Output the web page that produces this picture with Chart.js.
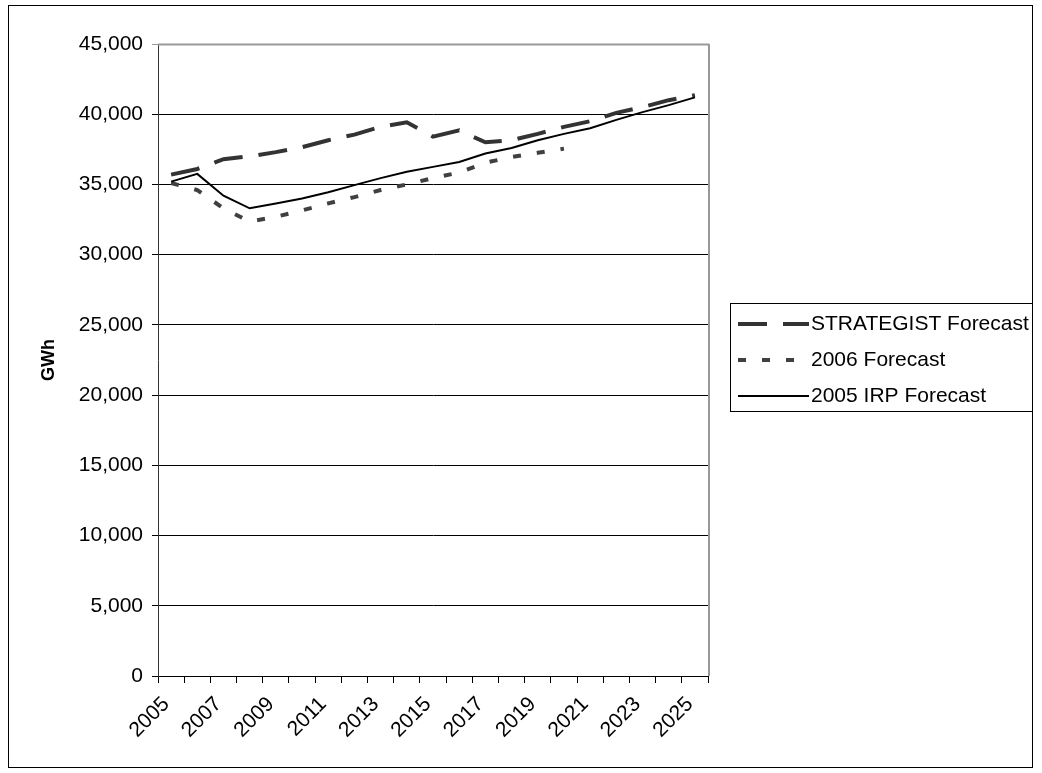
<!DOCTYPE html>
<html>
<head>
<meta charset="utf-8">
<title>GWh Forecast</title>
<script src="https://cdn.jsdelivr.net/npm/chart.js@4.4.0/dist/chart.umd.min.js"></script>
<style>
  html, body { margin: 0; padding: 0; background: #fff; }
  #wrap { width: 1042px; height: 773px; }
</style>
</head>
<body>
<div id="wrap">
  <canvas id="forecastChart" width="1042" height="773"></canvas>
</div>
<script>
// years on the category axis
const years = ["2005", "2006", "2007", "2008", "2009", "2010", "2011", "2012", "2013", "2014",
  "2015", "2016", "2017", "2018", "2019", "2020", "2021", "2022", "2023", "2024", "2025"];

// GWh
const strategistForecast = [35700, 36100, 36800, 37000, 37300, 37650, 38150, 38550, 39100, 39420,
  38400, 38850, 38000, 38150, 38600, 39100, 39500, 40100, 40500, 41000, 41350];
const forecast2006 = [35100, 34600, 33300, 32350, 32700, 33150, 33650, 34100, 34600, 35000,
  35450, 35850, 36550, 36950, 37250, 37550, null, null, null, null, null];
const irpForecast2005 = [35200, 35750, 34200, 33300, 33650, 34000, 34450, 34950, 35450, 35900,
  36250, 36600, 37200, 37600, 38150, 38600, 39000, 39600, 40150, 40650, 41200];

const seriesNames = ["STRATEGIST Forecast", "2006 Forecast", "2005 IRP Forecast"];
const yTicks = { min: 0, max: 45000, step: 5000 };

const FONT = "'Liberation Sans', Arial, sans-serif";

// frame around the whole chart, gray border of plot area, and the boxed legend
const framePlugin = {
  id: "frame",
  beforeDraw(chart) {
    const ctx = chart.ctx;
    ctx.save();
    ctx.fillStyle = "#fff";
    ctx.fillRect(0, 0, chart.width, chart.height);
    ctx.strokeStyle = "#000";
    ctx.lineWidth = 1;
    ctx.strokeRect(8.5, 5.5, 1024, 762);
    ctx.restore();
  },
  afterDraw(chart) {
    const ctx = chart.ctx;
    const area = chart.chartArea;
    ctx.save();
    ctx.strokeStyle = "#999";
    ctx.lineWidth = 2;
    ctx.beginPath();
    ctx.moveTo(area.left, area.top + 0.5);
    ctx.lineTo(area.right + 1, area.top + 0.5);
    ctx.moveTo(area.right + 1, area.top);
    ctx.lineTo(area.right + 1, area.bottom);
    ctx.stroke();

    // legend
    ctx.strokeStyle = "#000";
    ctx.lineWidth = 1;
    ctx.strokeRect(730.5, 303.5, 302, 108);
    ctx.font = "21px " + FONT;
    ctx.textBaseline = "middle";
    ctx.textAlign = "left";
    chart.data.datasets.forEach((ds, i) => {
      const y = 324 + 36 * i;
      ctx.beginPath();
      ctx.setLineDash(ds.borderDash || []);
      ctx.lineWidth = ds.borderWidth;
      ctx.strokeStyle = ds.borderColor;
      ctx.moveTo(738, y);
      ctx.lineTo(809, y);
      ctx.stroke();
      ctx.setLineDash([]);
      ctx.fillStyle = "#000";
      ctx.fillText(ds.label, 811, y);
    });
    ctx.restore();
  },
};

const createChart = (chartId) => {
  const ctx = document.getElementById(chartId).getContext("2d");

  new Chart(ctx, {
    type: "line",
    data: {
      labels: years,
      datasets: [
        {
          label: seriesNames[0],
          data: strategistForecast,
          borderColor: "#333333",
          borderWidth: 4,
          borderDash: [29, 16],
          order: 2,
        },
        {
          label: seriesNames[1],
          data: forecast2006,
          borderColor: "#404040",
          borderWidth: 4,
          borderDash: [8, 16],
          order: 1,
        },
        {
          label: seriesNames[2],
          data: irpForecast2005,
          borderColor: "#000000",
          borderWidth: 2,
          order: 0,
        },
      ],
    },
    options: {
      responsive: false,
      animation: false,
      devicePixelRatio: 1,
      layout: {
        padding: { top: 44, right: 334, bottom: 0, left: 0 },
      },
      elements: {
        point: { radius: 0, hoverRadius: 0 },
        line: { tension: 0, fill: false, borderCapStyle: "butt" },
      },
      plugins: {
        legend: { display: false },
        tooltip: { enabled: false },
      },
      scales: {
        x: {
          type: "category",
          offset: true,
          afterFit: (scale) => { scale.height = 97; },
          grid: {
            offset: true,
            drawOnChartArea: false,
            drawTicks: true,
            tickLength: 7,
            color: "#000",
          },
          border: { display: true, color: "#000", width: 1 },
          ticks: {
            autoSkip: false,
            maxRotation: 45,
            minRotation: 45,
            padding: 9,
            labelOffset: -5,
            color: "#000",
            font: { family: FONT, size: 21 },
            callback: (value, index) => (index % 2 === 0 ? years[index] : ""),
          },
        },
        y: {
          min: yTicks.min,
          max: yTicks.max,
          afterFit: (scale) => { scale.width = 158; },
          grid: {
            color: (c) => (c.tick && c.tick.value === yTicks.max ? "#999" : "#000"),
            lineWidth: 1,
            tickLength: 6,
            drawTicks: true,
          },
          border: { display: true, color: "#333", width: 1 },
          ticks: {
            stepSize: yTicks.step,
            padding: 9,
            color: "#000",
            font: { family: FONT, size: 21 },
            callback: (value) => value.toLocaleString("en-US"),
          },
          title: {
            display: true,
            text: "GWh",
            color: "#000",
            font: { family: FONT, size: 18, weight: "bold" },
            padding: { top: 38, bottom: 0 },
          },
        },
      },
    },
    plugins: [framePlugin],
  });
};

createChart("forecastChart");
</script>
</body>
</html>
